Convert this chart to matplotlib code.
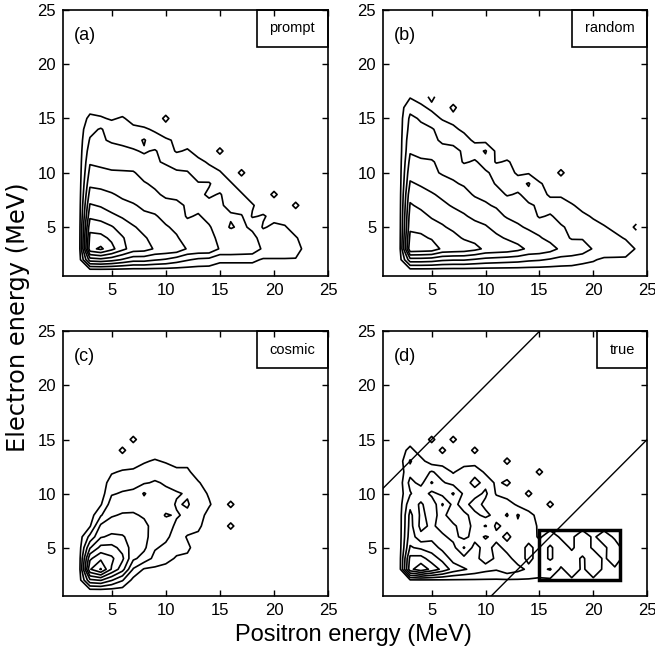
import numpy as np
import matplotlib
matplotlib.use('Agg')  # Non-interactive backend
import matplotlib.pyplot as plt
from matplotlib.patches import Rectangle

plt.rcParams['font.family'] = ['Liberation Sans', 'DejaVu Sans']

# --- Data: contour level maps ---
# grid nodes in MeV: columns = positron energy 1..24, rows = electron energy 17..1 (top row first)
# value = number of contour lines enclosing the node (fractional = distance to the next line)
# trailing zeros of a row are left out
E_POSITRON = np.arange(1, 25)
E_ELECTRON = np.arange(1, 18)

PROMPT_MAP = [
    "0",
    "0 0 .2 .1",
    "0 0 .7 .6 .4 .6 .2 .1 0 .7",
    "0 0 1.2 1.6 1.0 .8 .7 .6 .4 .1",
    "0 0 1.6 1.6 1.4 1.3 1.1 1.6 .8 .6 .4 .1",
    "0 0 2.0 1.9 1.8 1.7 1.6 1.4 1.6 1.0 .4 .6 .2 0 .7",
    "0 0 2.4 2.3 2.2 2.1 1.9 1.8 1.6 1.4 1.2 .9 .7 .4",
    "0 0 2.8 2.7 2.6 2.6 2.6 2.1 1.9 1.8 1.6 1.6 .9 .8 .6 0 .7",
    "0 0 3.3 3.2 3.0 2.9 2.7 2.6 2.3 2.1 1.9 1.7 1.6 1.6 .9 .6",
    "0 0 3.9 3.8 3.6 3.3 3.1 2.9 2.7 2.3 2.3 2.1 1.8 1.3 1.6 .9 .6 0 0 .7",
    "0 0 4.6 4.4 4.1 3.8 3.6 3.3 3.1 2.9 2.7 2.4 2.2 1.9 1.6 1.3 .9 .6 0 0 0 .7",
    "0 0 5.3 5.1 4.7 4.4 4.0 3.7 3.6 3.2 3.0 2.4 2.6 2.2 1.8 1.6 1.6 .4 .6 .2",
    "0 0 6.2 6.0 5.6 5.0 4.6 4.2 3.9 3.6 3.3 2.9 2.8 2.6 2.0 1.4 1.7 1.3 .4 .7 .6",
    "0 0 6.8 6.8 6.3 5.6 4.9 4.6 4.2 3.9 3.6 3.1 3.1 2.9 2.2 2.1 2.0 1.8 1.1 1.0 .9 .6",
    "0 0 7.2 7.7 6.8 5.8 5.0 4.9 4.4 4.3 4.2 3.4 3.3 3.3 2.4 2.4 2.3 2.2 1.3 1.3 1.3 1.1",
    "0 0 4.0 4.2 3.9 3.4 2.9 2.9 2.6 2.4 2.0 1.6 1.3 1.2 .7 .7 .7 .7 .4 .4 .4 .4",
    "0",
]

RANDOM_MAP = [
    "0 0 .4 .1 .7",
    "0 0 1.2 .7 .3 0 .7",
    "0 0 1.7 1.4 .9 .4 .2",
    "0 0 1.9 1.7 1.6 1.1 .7 .3",
    "0 0 2.2 2.0 1.8 1.3 1.3 .9 .3 .2",
    "0 0 2.4 2.3 2.1 1.9 1.7 1.4 1.1 1.6 .3",
    "0 0 2.8 2.6 2.6 2.2 2.0 1.4 1.6 1.2 .4 .6 .2",
    "0 0 3.2 3.0 2.7 2.4 2.3 2.1 1.9 1.6 1.3 1.0 .3 .4 0 0 .7",
    "0 0 3.6 3.4 3.1 2.9 2.6 2.4 2.2 2.0 1.4 1.4 1.1 1.6 .6 .2",
    "0 0 4.2 3.8 3.6 3.3 3.0 2.8 2.4 2.3 2.0 1.4 1.6 1.2 1.0 .3 .4",
    "0 0 4.6 4.3 4.0 3.7 3.4 3.2 2.9 2.6 2.4 2.2 1.9 1.6 1.4 1.1 .8 .6 .2",
    "0 0 5.0 4.8 4.4 4.2 3.9 3.6 3.3 3.1 2.8 2.4 2.3 2.0 1.4 1.6 1.2 .9 .7 .4",
    "0 0 5.3 5.2 4.9 4.6 4.3 4.0 3.8 3.6 3.2 3.0 2.6 2.4 2.1 1.9 1.6 1.3 1.0 .8 .6 .2 0 .7",
    "0 0 5.8 5.7 5.4 5.0 4.8 4.4 4.2 3.9 3.7 3.4 3.1 2.8 2.6 2.2 1.9 1.4 1.4 1.1 .9 .8 .4",
    "0 0 6.3 6.2 6.1 5.3 5.2 5.1 4.8 4.3 4.2 4.1 3.8 3.3 3.2 2.9 2.3 2.2 2.1 1.4 1.3 1.2 1.1 .4",
    "0 0 3.1 3.1 3.0 2.7 2.6 2.6 2.4 2.2 2.1 2.0 1.9 1.7 1.6 1.4 1.2 1.1 .8 .6 .3 .3 .3 .3",
    "0",
]

COSMIC_MAP = [
    "0",
    "0",
    "0 0 0 0 0 0 .7",
    "0 0 0 0 0 .7",
    "0 0 0 0 0 0 0 .4 .6 .4 .2 .2",
    "0 0 0 0 .4 .6 .7 .9 1.1 1.0 .7 .7",
    "0 0 0 0 .9 1.1 1.2 1.4 1.6 1.4 1.1 1.1 .6",
    "0 0 0 0 1.4 1.6 1.7 2.6 1.9 1.7 1.6 1.4 .9 .4",
    "0 0 0 .4 2.0 2.1 2.2 2.1 2.1 2.0 1.4 1.6 1.0 .6 0 .7",
    "0 0 0 1.4 2.4 2.6 2.6 2.4 2.2 1.4 1.6 1.3 .9 .2",
    "0 0 .4 2.7 3.0 3.0 3.0 2.7 2.2 2.0 1.3 1.1 .7 0 0 .7",
    "0 0 1.8 3.4 3.7 3.6 3.1 2.8 2.0 1.7 1.1 .4 .3",
    "0 0 3.4 4.8 4.8 4.2 3.0 2.7 1.6 1.3 .8 .7",
    "0 0 5.3 6.3 5.7 4.7 2.7 2.1 1.2 .8 .4 .3",
    "0 0 6.4 7.6 5.4 3.9 1.4 .4 .3 .2",
    "0 0 3.3 3.6 2.6 1.6 .2",
    "0",
]

TRUE_MAP = [
    "0",
    "0",
    "0 0 0 0 .7 0 .7",
    "0 0 .8 0 0 .7 0 0 .7",
    "0 0 1.6 .8 0 0 0 0 0 0 0 .7",
    "0 0 1.2 1.0 1.6 1.1 .4 1.0 1.2 .3 0 0 0 0 .7",
    "0 0 1.8 1.2 2.6 1.6 1.2 1.1 1.8 1.2 .3 .7",
    "0 0 1.4 2.2 1.2 1.8 2.6 1.3 1.1 1.7 .4 0 0 .7",
    "0 0 2.2 1.3 2.3 .4 1.8 1.1 2.0 1.2 1.1 1.0 .3 0 0 .7",
    "0 0 2.8 1.3 1.8 1.2 2.1 1.7 1.2 1.8 1.1 .4 1.6 .8 .2",
    "0 0 2.9 1.2 1.7 1.1 1.3 2.0 1.2 .4 1.7 1.2 1.3 1.1 .3",
    "0 0 3.1 1.8 2.2 1.7 1.2 1.8 1.1 1.6 1.2 1.7 1.1 1.2 .3 1.2 .3 .3 1.2 .3 1.1 .3",
    "0 0 3.6 3.3 3.0 2.2 1.8 .4 1.9 1.1 1.8 1.2 1.1 1.7 1.2 .3 1.2 .3 1.2 .3 .3 1.1",
    "0 0 4.8 4.9 4.0 3.2 2.1 1.8 1.7 1.2 1.6 1.8 1.1 1.7 1.2 .3 1.2 1.1 .3 1.3 .3 1.2",
    "0 0 5.2 6.2 5.2 4.2 3.1 2.6 2.2 1.8 1.6 2.2 1.8 1.3 1.2 1.6 .3 1.2 .3 1.2 .3 .3",
    "0 0 .4 .4 .4 .4 .4 .4 .4 .4 .4 .4 .4 .4 .3 .3 .3 .3 .3 .3 .3 .3",
    "0",
]

PANEL_MAPS = [PROMPT_MAP, RANDOM_MAP, COSMIC_MAP, TRUE_MAP]
PANEL_LETTERS = ['(a)', '(b)', '(c)', '(d)']
PANEL_NAMES = ['prompt', 'random', 'cosmic', 'true']
NAME_BOX_LEFT = [0.73, 0.716, 0.73, 0.81]   # left edge of the name box, axes fraction

TICKS = [5, 10, 15, 20, 25]
E_MIN, E_MAX = 0.5, 25

# panel (d): accepted band e- = e+ +/- 10 MeV and the signal box
BAND_OFFSETS = [10, -10]
SIGNAL_BOX = (15, 2, 22.5, 6.6)  # x0, y0, x1, y1 in MeV


def to_grid(rows):
    n = len(E_POSITRON)
    grid = []
    for r in rows[::-1]:
        vals = [float(v) for v in r.split()]
        grid.append(vals + [0.0] * (n - len(vals)))
    return np.array(grid)


fig = plt.figure(figsize=(6.55, 6.51), dpi=100)
axes = [
    fig.add_axes([0.096, 0.576, 0.405, 0.409]),
    fig.add_axes([0.585, 0.576, 0.403, 0.409]),
    fig.add_axes([0.096, 0.084, 0.405, 0.407]),
    fig.add_axes([0.585, 0.084, 0.403, 0.407]),
]

for ax, rows, letter, name, box_left in zip(axes, PANEL_MAPS, PANEL_LETTERS,
                                            PANEL_NAMES, NAME_BOX_LEFT):
    z = to_grid(rows)
    levels = np.arange(0.5, z.max(), 1.0)
    ax.contour(E_POSITRON, E_ELECTRON, z, levels=levels, colors='black',
               linewidths=1.2)
    ax.set_xlim(E_MIN, E_MAX)
    ax.set_ylim(E_MIN, E_MAX)
    ax.set_xticks(TICKS)
    ax.set_yticks(TICKS)
    ax.tick_params(direction='in', top=True, right=True, length=4, width=1,
                   labelsize=12, pad=5)
    for sp in ax.spines.values():
        sp.set_linewidth(1.2)
    ax.text(0.04, 0.905, letter, transform=ax.transAxes, fontsize=13,
            va='center', ha='left')
    ax.add_patch(Rectangle((box_left, 0.862), 1 - box_left, 0.138,
                           transform=ax.transAxes, fill=False, lw=1.2,
                           clip_on=False))
    ax.text((box_left + 1) / 2, 0.931, name, transform=ax.transAxes,
            fontsize=10.5, ha='center', va='center')

ax_d = axes[3]
for off in BAND_OFFSETS:
    ax_d.axline((0, off), slope=1, color='black', lw=1)
x0, y0, x1, y1 = SIGNAL_BOX
ax_d.add_patch(Rectangle((x0, y0), x1 - x0, y1 - y0, fill=False, lw=2.5,
                         color='black'))

# the y label is drawn stretched in the original, so a wider face is used
fig.text(0.027, 0.513, 'Electron energy (MeV)', rotation=90, fontsize=17.4,
         family=['DejaVu Sans'], ha='center', va='center')
fig.text(0.539, 0.025, 'Positron energy (MeV)', fontsize=17,
         ha='center', va='center')

fig.savefig('out.png', dpi=100)
